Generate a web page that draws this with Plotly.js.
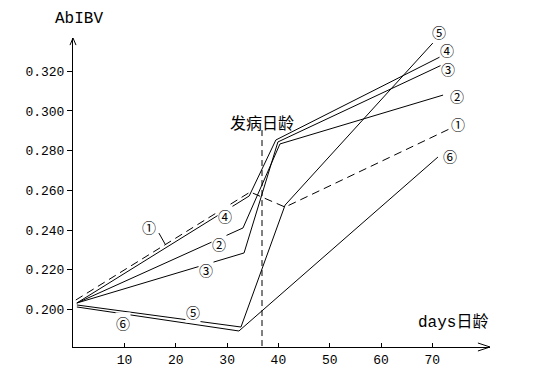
<!DOCTYPE html>
<html>
<head>
<meta charset="utf-8">
<script src="https://cdn.plot.ly/plotly-3.0.1.min.js"></script>
<style>html,body{margin:0;padding:0;background:#fff;}#chart{width:536px;height:382px;}</style>
</head>
<body>
<div id="chart"></div>
<script>
// Days of age (x) and AbIBV values (y) for each group
const days1 = [0.5, 34.5, 41.3, 73.3];
const vals1 = [0.2048, 0.2592, 0.2516, 0.2909];
const days2 = [0.7, 33.1, 40.3, 72.1];
const vals2 = [0.2033, 0.2411, 0.2834, 0.3080];
const days3 = [0.7, 33.3, 39.9, 71.9];
const vals3 = [0.2033, 0.2285, 0.2844, 0.3232];
const days4 = [0.7, 34.3, 39.5, 71.5];
const vals4 = [0.2033, 0.2572, 0.2854, 0.3272];
const days5 = [0.7, 32.7, 41.3, 70.1];
const vals5 = [0.2023, 0.1912, 0.2526, 0.3342];
const days6 = [0.7, 32.3, 71.1];
const vals6 = [0.2013, 0.1892, 0.2768];
const onsetDay = [36.8, 36.8];
const onsetVals = [0.2904, 0.1811];
const leader1Days = [16.7, 17.9];
const leader1Vals = [0.2385, 0.2330];

const xTicks = [10, 20, 30, 40, 50, 60, 70];
const yTicks = [0.200, 0.220, 0.240, 0.260, 0.280, 0.300, 0.320];
const yTickText = ['0.200', '0.220', '0.240', '0.260', '0.280', '0.300', '0.320'];

const seriesLabels = ['①', '②', '③', '④', '⑤', '⑥'];
// label anchor points (mid-line labels and end labels), in data units
const midLabelDays = [14.8, 28.4, 25.9, 29.6, 23.3, 9.7];
const midLabelVals = [0.2416, 0.2330, 0.2199, 0.2471, 0.1988, 0.1932];
const endLabelDays = [75.0, 74.8, 73.1, 72.8, 71.3, 73.5];
const endLabelVals = [0.2934, 0.3075, 0.3211, 0.3307, 0.3398, 0.2773];

const yTitle = 'AbIBV';
const xTitle = 'days日龄';
const onsetLabel = '发病日龄';

const mono = 'Liberation Mono, Noto Sans CJK SC, monospace';
const cjk = 'Noto Sans CJK SC, sans-serif';

function line(x, y, dash) {
  return {x: x, y: y, type: 'scatter', mode: 'lines',
          line: {color: '#000', width: 1, dash: dash || 'solid'},
          hoverinfo: 'skip', showlegend: false, cliponaxis: false};
}

const traces = [
  line(days1, vals1, '8px,5px'),
  line(days2, vals2),
  line(days3, vals3),
  line(days4, vals4),
  line(days5, vals5),
  line(days6, vals6),
  line(onsetDay, onsetVals, '6px,4px'),
  line(leader1Days, leader1Vals)
];

const X0 = -0.05, X1 = 81.25, Y0 = 0.18114, Y1 = 0.33675;
function px(d) { return (d - X0) / (X1 - X0); }
function py(v) { return (v - Y0) / (Y1 - Y0); }

const annotations = [];
for (let i = 0; i < seriesLabels.length; i++) {
  annotations.push({x: px(midLabelDays[i]), y: py(midLabelVals[i]), xref: 'paper', yref: 'paper',
    xanchor: 'center', yanchor: 'middle',
    text: seriesLabels[i], showarrow: false, bgcolor: '#fff', borderpad: 0,
    font: {family: cjk, size: 14, color: '#000'}});
  annotations.push({x: px(endLabelDays[i]), y: py(endLabelVals[i]), xref: 'paper', yref: 'paper',
    xanchor: 'center', yanchor: 'middle',
    text: seriesLabels[i], showarrow: false, bgcolor: '#fff', borderpad: 0,
    font: {family: cjk, size: 14, color: '#000'}});
}
annotations.push({x: 0.0144, y: 1.0615, xref: 'paper', yref: 'paper', text: yTitle,
  xanchor: 'center', yanchor: 'middle',
  showarrow: false, font: {family: mono, size: 16, color: '#000'}});
annotations.push({x: 0.453, y: 0.728, xref: 'paper', yref: 'paper', text: onsetLabel,
  xanchor: 'center', yanchor: 'middle',
  showarrow: false, font: {family: cjk, size: 16, color: '#000'}});
annotations.push({x: 0.911, y: 0.0777, xref: 'paper', yref: 'paper', text: xTitle,
  xanchor: 'center', yanchor: 'middle',
  showarrow: false, font: {family: mono, size: 16, color: '#000'}});

const layout = {
  width: 536, height: 382,
  margin: {l: 73, r: 46, t: 38, b: 35},
  paper_bgcolor: '#fff', plot_bgcolor: '#fff',
  showlegend: false,
  font: {family: mono, size: 13, color: '#000'},
  xaxis: {range: [X0, X1], showgrid: false, zeroline: false,
    showline: true, linecolor: '#000', linewidth: 1,
    tickvals: xTicks, ticktext: xTicks.map(String),
    ticks: 'inside', ticklen: 4, tickcolor: '#000', tickwidth: 1,
    tickfont: {family: mono, size: 13, color: '#000'}},
  yaxis: {range: [Y0, Y1], showgrid: false, zeroline: false,
    showline: true, linecolor: '#000', linewidth: 1,
    tickvals: yTicks, ticktext: yTickText,
    ticks: 'outside', ticklen: 5, tickcolor: '#000', tickwidth: 1,
    tickfont: {family: mono, size: 13, color: '#000'}},
  shapes: [
    {type: 'path', xref: 'paper', yref: 'paper',
     path: 'M -0.0072,0.977 L 0,1 L 0.0072,0.977', line: {color: '#000', width: 1}},
    {type: 'path', xref: 'paper', yref: 'paper',
     path: 'M 0.971,0.0129 L 1,0 L 0.971,-0.0129', line: {color: '#000', width: 1}}
  ],
  annotations: annotations
};

Plotly.newPlot('chart', traces, layout, {displayModeBar: false, staticPlot: true});
</script>
</body>
</html>
